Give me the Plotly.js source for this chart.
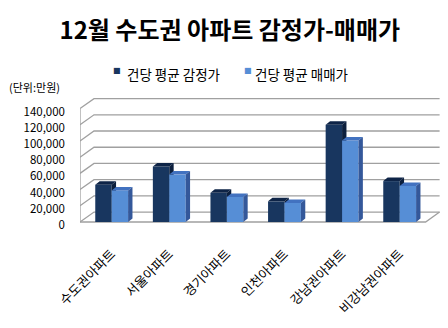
<!DOCTYPE html>
<html>
<head>
<meta charset="utf-8">
<script src="https://cdn.plot.ly/plotly-3.0.1.min.js"></script>
<style>html,body{margin:0;padding:0;background:#fff;}#chart{width:448px;height:328px;}</style>
</head>
<body>
<div id="chart"></div>
<script>
// ---- data ----
const categories = ['수도권아파트', '서울아파트', '경기아파트', '인천아파트', '강남권아파트', '비강남권아파트'];
const appraisal = [46000, 68500, 36000, 25500, 120000, 50500];   // 건당 평균 감정가
const sale = [39000, 58500, 31000, 23500, 100500, 44500];        // 건당 평균 매매가
const yTickValues = [0, 20000, 40000, 60000, 80000, 100000, 120000, 140000];
const seriesNames = ['건당 평균 감정가', '건당 평균 매매가'];
const seriesColors = ['#18365f', '#568ed6'];

// ---- 3D look parameters (presentation only) ----
const FONT = '"Noto Sans CJK KR", "Noto Sans", sans-serif';
const W = 0.285;          // bar width in category units
const BDX = 0.076, BDY = 4300;   // bar depth
const WDX = 0.243, WDY = 12300;  // wall depth
const XL = -0.55, XR = 5.45;
const YR = [-2470, 154300];
const XRANGE = [-0.55, 5.7];

const idx = categories.map((_, i) => i);

function faces(vals, x0off) {
  const top = {x: [], y: []}, side = {x: [], y: []};
  vals.forEach((v, i) => {
    const a = i + x0off, b = a + W;
    top.x.push(a, a + BDX, b + BDX, b, a, null);
    top.y.push(v, v + BDY, v + BDY, v, v, null);
    side.x.push(b, b + BDX, b + BDX, b, b, null);
    side.y.push(v, v + BDY, BDY, 0, v, null);
  });
  return {top, side};
}

function poly(p, color, xa, ya) {
  return {type: 'scatter', mode: 'lines', x: p.x, y: p.y, fill: 'toself', fillcolor: color,
    line: {width: 0, color: color}, hoverinfo: 'skip', showlegend: false, xaxis: xa, yaxis: ya};
}

const fd = faces(appraisal, -W);
const fl = faces(sale, 0);

const traces = [
  {type: 'bar', name: seriesNames[0], x: idx, y: appraisal, width: W, offset: -W,
   marker: {color: seriesColors[0], line: {width: 0}}, xaxis: 'x', yaxis: 'y', showlegend: false},
  poly(fd.top, '#0e2447', 'x', 'y'),
  poly(fd.side, '#0c1f3d', 'x', 'y'),
  {type: 'bar', name: seriesNames[1], x: idx, y: sale, width: W, offset: 0,
   marker: {color: seriesColors[1], line: {width: 0}}, xaxis: 'x2', yaxis: 'y2', showlegend: false},
  poly(fl.top, '#4272c0', 'x2', 'y2'),
  poly(fl.side, '#34589a', 'x2', 'y2')
];

// ---- walls & gridlines ----
const shapes = [];
const gridColor = '#a0a0a0';
yTickValues.forEach(v => {
  shapes.push({type: 'path', xref: 'x', yref: 'y', layer: 'below',
    path: `M${XL},${v} L${XL + WDX},${v + WDY} L${XR + WDX},${v + WDY}`,
    line: {color: gridColor, width: 1.3}});
});
shapes.push({type: 'line', xref: 'x', yref: 'y', layer: 'below', x0: XL, x1: XL,
  y0: 0, y1: yTickValues[yTickValues.length - 1], line: {color: gridColor, width: 1.3}});
shapes.push({type: 'path', xref: 'x', yref: 'y', layer: 'below',
  path: `M${XL},0 L${XR},0 L${XR + WDX},${WDY}`, line: {color: gridColor, width: 1.3}});

// ---- legend (drawn as text with colour keys) ----
const legendPos = [{mx: 117, tx: 125}, {mx: 248, tx: 253}];
const annotations = [];
seriesNames.forEach((n, i) => {
  annotations.push({text: '■', xref: 'paper', yref: 'paper', x: (legendPos[i].mx - 80) / 360,
    xanchor: 'center', y: (224 - 70) / 127, yanchor: 'middle', showarrow: false,
    font: {family: '"DejaVu Sans", sans-serif', size: 8, color: seriesColors[i]}});
  annotations.push({text: n, xref: 'paper', yref: 'paper', x: (legendPos[i].tx - 80) / 360,
    xanchor: 'left', y: (224 - 74) / 127, yanchor: 'middle', showarrow: false,
    font: {family: FONT, size: 13.5, color: '#000'}});
});
annotations.push({text: '(단위:만원)', xref: 'paper', yref: 'paper',
  x: (7 - 80) / 360, xanchor: 'left', y: (224 - 87) / 127, yanchor: 'middle',
  showarrow: false, font: {family: FONT, size: 11, color: '#000'}});

const layout = {
  width: 448, height: 328,
  margin: {l: 80, r: 8, t: 97, b: 104},
  paper_bgcolor: '#fff', plot_bgcolor: 'rgba(0,0,0,0)',
  font: {family: FONT, color: '#000', size: 12},
  title: {text: '<b>12월 수도권 아파트 감정가-매매가</b>', x: 0.513, xanchor: 'center',
    y: 0.908, yanchor: 'middle', font: {family: FONT, size: 24, color: '#000'}},
  barmode: 'overlay',
  showlegend: false,
  xaxis: {range: XRANGE, tickvals: idx, ticktext: categories, tickangle: -45,
    showgrid: false, zeroline: false, showline: false, ticks: '', automargin: false,
    ticklabelstandoff: 19,
    tickfont: {family: FONT, size: 13, color: '#000'}, fixedrange: true},
  yaxis: {range: YR, tickvals: yTickValues, tickformat: ',d', showgrid: false,
    zeroline: false, showline: false, ticks: '', ticklabelstandoff: 14, ticklabelshift: 3,
    automargin: false,
    tickfont: {family: FONT, size: 11.5, color: '#000'}, fixedrange: true},
  xaxis2: {range: XRANGE, overlaying: 'x', visible: false, fixedrange: true},
  yaxis2: {range: YR, overlaying: 'y', visible: false, fixedrange: true},
  shapes: shapes,
  annotations: annotations
};

Plotly.newPlot('chart', traces, layout, {staticPlot: true, displayModeBar: false});
</script>
</body>
</html>
